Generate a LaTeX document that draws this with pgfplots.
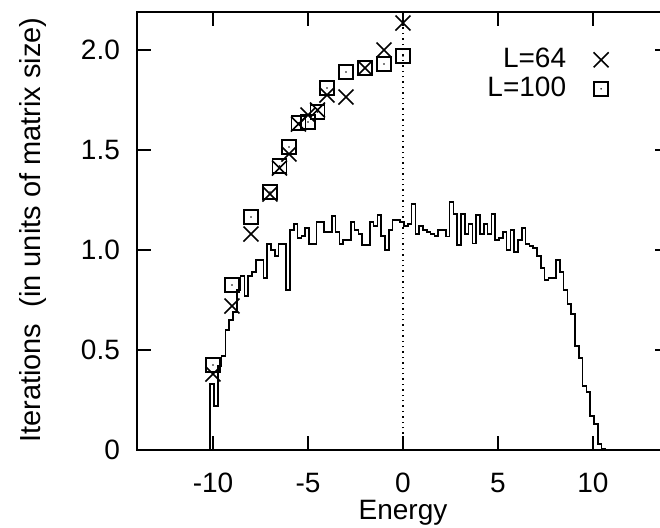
\documentclass[border=0pt]{standalone}
\usepackage{fontspec}
\setmainfont{Liberation Sans}
\usepackage{pgfplots}
\pgfplotsset{compat=1.18}

% open square with a dot in the middle (gnuplot style)
\pgfdeclareplotmark{sqdot}{%
  \pgfpathrectangle{\pgfpoint{-\pgfplotmarksize}{-\pgfplotmarksize}}{\pgfpoint{2\pgfplotmarksize}{2\pgfplotmarksize}}%
  \pgfusepathqstroke
  \pgfpathcircle{\pgfpointorigin}{0.45pt}%
  \pgfusepathqfill
}

\begin{document}
\begin{tikzpicture}[font=\fontsize{14}{16}\selectfont]
\begin{axis}[
    width=266pt, height=219pt, scale only axis,
    xmin=-14, xmax=14, ymin=0, ymax=2.19,
    xtick={-10,-5,0,5,10}, xticklabels={-10,-5,0,5,10},
    ytick={0,0.5,1,1.5,2}, yticklabels={0,0.5,1.0,1.5,2.0},
    tick align=inside, major tick length=7pt,
    axis line style={line width=1pt},
    every tick/.style={black, line width=1pt},
    xlabel={Energy},
    ylabel={Iterations\ \ (in units of matrix size)},
    xlabel style={at={(axis description cs:0.5,-0.1438)}, anchor=center},
    ylabel style={at={(axis description cs:-0.1955,0.502)}, anchor=center,
        font=\fontsize{14.5}{16}\selectfont},
    yticklabel style={xshift=-5pt},
    xticklabel style={yshift=-8pt},
    legend style={draw=none, fill=none, at={(axis description cs:0.8985,0.934)},
        anchor=north east, row sep=0pt, column sep=12.5pt,
        nodes={inner sep=1.25pt, text height=10pt, text depth=2pt}},
    legend cell align=right,
    legend plot pos=right,
]

% density of states histogram
\addplot[const plot, black, line width=0.8pt, forget plot] coordinates {
(-10.15,0) (-10.15,0.33) (-9.95,0.22) (-9.75,0.42) (-9.55,0.47) (-9.35,0.60)
(-9.15,0.65) (-8.95,0.69) (-8.75,0.80) (-8.55,0.87) (-8.35,0.77) (-8.15,0.87)
(-7.95,0.89) (-7.75,0.95) (-7.55,0.95) (-7.35,0.86) (-7.15,1.03) (-6.95,1.00)
(-6.75,0.97) (-6.55,1.03) (-6.35,1.03) (-6.15,0.80) (-5.95,1.10) (-5.75,1.13)
(-5.55,1.06) (-5.35,1.07) (-5.15,1.11) (-4.95,1.03) (-4.75,1.03) (-4.55,1.14)
(-4.35,1.14) (-4.15,1.09) (-3.95,1.09) (-3.75,1.17) (-3.55,1.09) (-3.35,1.03)
(-3.15,1.05) (-2.95,1.05) (-2.75,1.14) (-2.55,1.10) (-2.35,1.08) (-2.15,1.025)
(-1.95,1.025) (-1.75,1.14) (-1.55,1.12) (-1.35,1.175) (-1.15,1.07) (-0.95,1.00)
(-0.75,1.10) (-0.55,1.15) (-0.35,1.15) (-0.15,1.14) (0.05,1.12) (0.25,1.13)
(0.45,1.23) (0.65,1.08) (0.85,1.12) (1.05,1.10) (1.25,1.09) (1.45,1.08)
(1.65,1.07) (1.85,1.10) (2.05,1.10) (2.25,1.067) (2.45,1.24) (2.65,1.18)
(2.85,1.025) (3.05,1.18) (3.25,1.08) (3.45,1.13) (3.65,1.033) (3.85,1.175)
(4.05,1.08) (4.25,1.13) (4.45,1.08) (4.65,1.18) (4.85,1.05) (5.05,1.06)
(5.25,1.09) (5.45,1.00) (5.65,1.10) (5.85,0.99) (6.05,1.05) (6.25,1.11)
(6.45,1.03) (6.65,1.02) (6.85,1.01) (7.05,0.97) (7.25,0.91) (7.45,0.85)
(7.65,0.86) (7.85,0.86) (8.05,0.95) (8.25,0.89) (8.45,0.80) (8.65,0.73)
(8.85,0.68) (9.05,0.52) (9.25,0.46) (9.45,0.32) (9.65,0.29) (9.85,0.17)
(10.05,0.13) (10.25,0.03) (10.45,0.005) (10.65,0)
};

% E = 0 guide
\addplot[black, dotted, line width=0.7pt, forget plot] coordinates {(0,0) (0,2.19)};

\addplot[only marks, mark=x, mark size=5.3pt, mark options={line width=0.8pt}, black] coordinates {
(-10,0.38) (-9,0.72) (-8,1.08) (-7,1.28) (-6.5,1.41) (-6,1.48) (-5.5,1.63)
(-5,1.675) (-4.5,1.70) (-4,1.775) (-3,1.765) (-2,1.91) (-1,2.00) (0,2.135)
};
\addlegendentry{L=64}

\addplot[only marks, mark=sqdot, mark size=3.5pt, mark options={line width=0.8pt}, black] coordinates {
(-10,0.425) (-9,0.825) (-8,1.165) (-7,1.29) (-6.5,1.42) (-6,1.515) (-5.5,1.635)
(-5,1.64) (-4.5,1.69) (-4,1.81) (-3,1.89) (-2,1.91) (-1,1.93) (0,1.97)
};
\addlegendentry{L=100}

\coordinate (bbSW) at (rel axis cs:-0.2575,-0.1758);
\coordinate (bbNE) at (rel axis cs:0.9831,1.0274);
\end{axis}
\pgfresetboundingbox
\path[use as bounding box] (bbSW) rectangle (bbNE);
\end{tikzpicture}
\end{document}
